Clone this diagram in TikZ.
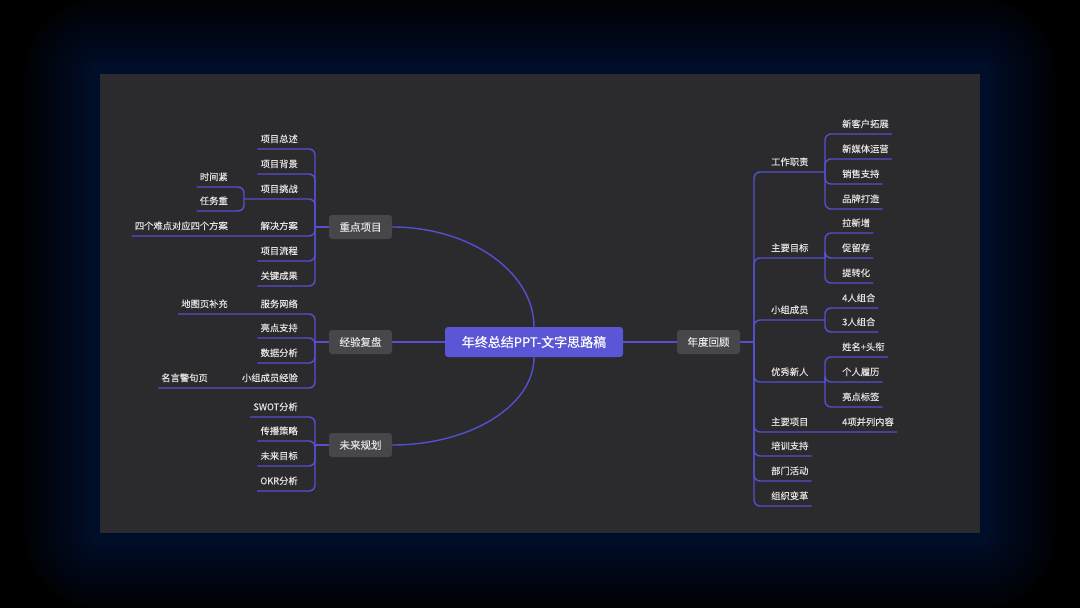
\documentclass[tikz,border=0pt]{standalone}
\usepackage{fontspec}
\setmainfont{Noto Sans CJK SC}[FakeBold=0.3]
\definecolor{panelc}{HTML}{2B2A2D}
\definecolor{boxc}{HTML}{47464A}
\definecolor{mainc}{HTML}{5A56D6}
\definecolor{linec}{HTML}{5450D0}
\definecolor{txtc}{HTML}{E2E2E2}
\definecolor{glowc}{HTML}{001A42}
\tikzset{
  lc/.style={draw=linec, line width=1.4pt, rounded corners=6pt},
  lbl/.style={text=txtc, font=\fontsize{9.3}{11}\selectfont, inner xsep=3pt, inner ysep=0pt, minimum height=20pt},
  lone/.style={fill=boxc, rounded corners=3pt, text=txtc, font=\fontsize{10.5}{12}\selectfont, minimum width=63pt, minimum height=24pt, inner sep=0pt},
  root/.style={fill=mainc, rounded corners=3pt, text=white, font=\fontsize{13}{15}\selectfont, minimum width=178pt, minimum height=30pt, inner sep=0pt},
  sl/.style={lbl, anchor=south east},
  sr/.style={lbl, anchor=south west}
}
\begin{document}
\begin{tikzpicture}[x=1pt,y=-1pt]
\useasboundingbox (0,0) rectangle (1080,608);
\fill[black] (0,0) rectangle (1080,608);
\foreach \i in {1,...,18} {
  \pgfmathsetmacro{\d}{75*(\i/18)^1.8}
  \fill[glowc, opacity=0.08, rounded corners={\d*1pt}] ({100-\d},{74-\d}) rectangle ({980+\d},{533+\d});
}
\fill[panelc] (100,74) rectangle (980,533);

% main nodes
\node[root] (c) at (534,342) {年终总结PPT-文字思路稿};
\node[lone] (zd) at (360.5,227) {重点项目};
\node[lone] (jy) at (360.5,342) {经验复盘};
\node[lone] (wl) at (360.5,445) {未来规划};
\node[lone] (nd) at (708.5,342) {年度回顾};

\coordinate (jA) at (315,227);
\coordinate (jB) at (315,342);
\coordinate (jC) at (315,445);
\coordinate (jR) at (754,342);
\coordinate (sA) at (244,199);
\coordinate (s1) at (825,172);
\coordinate (s2) at (825,258);
\coordinate (s3) at (825,320);
\coordinate (s4) at (825,382);

% left level 2
\node[sl] (A1) at (301,149) {项目总述};
\node[sl] (A2) at (301,174) {项目背景};
\node[sl] (A3) at (301,199) {项目挑战};
\node[sl] (A4) at (301,236) {解决方案};
\node[sl] (A5) at (301,261) {项目流程};
\node[sl] (A6) at (301,286) {关键成果};
\node[sl] (B1) at (301,314) {服务网络};
\node[sl] (B2) at (301,338) {亮点支持};
\node[sl] (B3) at (301,363) {数据分析};
\node[sl] (B4) at (301,388) {小组成员经验};
\node[sl] (C1) at (301,417) {SWOT分析};
\node[sl] (C2) at (301,441) {传播策略};
\node[sl] (C3) at (301,466) {未来目标};
\node[sl] (C4) at (301,491) {OKR分析};
% left level 3
\node[sl] (A3a) at (231,187) {时间紧};
\node[sl] (A3b) at (231,211) {任务重};
\node[sl] (A4a) at (231,236) {四个难点对应四个方案};
\node[sl] (B1a) at (231,314) {地图页补充};
\node[sl] (B4a) at (211,388) {名言警句页};

% right level 2
\node[sr] (R1) at (768,172) {工作职责};
\node[sr] (R2) at (768,258) {主要目标};
\node[sr] (R3) at (768,320) {小组成员};
\node[sr] (R4) at (768,382) {优秀新人};
\node[sr] (R5) at (768,432) {主要项目};
\node[sr] (R6) at (768,456) {培训支持};
\node[sr] (R7) at (768,481) {部门活动};
\node[sr] (R8) at (768,506) {组织变革};
% right level 3
\node[sr] (R1a) at (839,134) {新客户拓展};
\node[sr] (R1b) at (839,159) {新媒体运营};
\node[sr] (R1c) at (839,184) {销售支持};
\node[sr] (R1d) at (839,209) {品牌打造};
\node[sr] (R2a) at (839,233) {拉新增};
\node[sr] (R2b) at (839,258) {促留存};
\node[sr] (R2c) at (839,283) {提转化};
\node[sr] (R3a) at (839,308) {4人组合};
\node[sr] (R3b) at (839,332) {3人组合};
\node[sr] (R4a) at (839,357) {姓名+头衔};
\node[sr] (R4b) at (839,382) {个人履历};
\node[sr] (R4c) at (839,407) {亮点标签};
\node[sr] (R5a) at (839,432) {4项并列内容};

% root connectors
\draw[draw=linec, line width=1.4pt] (zd.east) .. controls (470,227) and (534,272) .. (c.north);
\draw[draw=linec, line width=1.4pt] (wl.east) .. controls (470,445) and (534,406) .. (c.south);
\draw[draw=linec, line width=1.4pt] (jy.east) -- (c.west);
\draw[draw=linec, line width=1.4pt] (c.east) -- (nd.west);
\draw[draw=linec, line width=1.4pt] (zd.west) -- (jA);
\draw[draw=linec, line width=1.4pt] (jy.west) -- (jB);
\draw[draw=linec, line width=1.4pt] (wl.west) -- (jC);
\draw[draw=linec, line width=1.4pt] (nd.east) -- (jR);

% left branches
\foreach \n in {A1,A2,A5,A6} \draw[lc] (jA) |- (\n.south east) -- (\n.south west);
\draw[lc] (jA) |- (A3.south east) -- (A3.south west) -- (sA);
\draw[lc] (jA) |- (A4.south east) -- (A4.south west) -- (A4a.south east) -- (A4a.south west);
\foreach \n in {A3a,A3b} \draw[lc] (sA) |- (\n.south east) -- (\n.south west);
\foreach \n in {B2,B3} \draw[lc] (jB) |- (\n.south east) -- (\n.south west);
\draw[lc] (jB) |- (B1.south east) -- (B1.south west) -- (B1a.south east) -- (B1a.south west);
\draw[lc] (jB) |- (B4.south east) -- (B4.south west) -- (B4a.south east) -- (B4a.south west);
\foreach \n in {C1,C2,C3,C4} \draw[lc] (jC) |- (\n.south east) -- (\n.south west);

% right branches
\draw[lc] (jR) |- (R1.south west) -- (R1.south east) -- (s1);
\draw[lc] (jR) |- (R2.south west) -- (R2.south east) -- (s2);
\draw[lc] (jR) |- (R3.south west) -- (R3.south east) -- (s3);
\draw[lc] (jR) |- (R4.south west) -- (R4.south east) -- (s4);
\draw[lc] (jR) |- (R5.south west) -- (R5.south east) -- (R5a.south west) -- (R5a.south east);
\foreach \n in {R6,R7,R8} \draw[lc] (jR) |- (\n.south west) -- (\n.south east);
\foreach \n in {R1a,R1b,R1c,R1d} \draw[lc] (s1) |- (\n.south west) -- (\n.south east);
\foreach \n in {R2a,R2b,R2c} \draw[lc] (s2) |- (\n.south west) -- (\n.south east);
\foreach \n in {R3a,R3b} \draw[lc] (s3) |- (\n.south west) -- (\n.south east);
\foreach \n in {R4a,R4b,R4c} \draw[lc] (s4) |- (\n.south west) -- (\n.south east);
\end{tikzpicture}
\end{document}
